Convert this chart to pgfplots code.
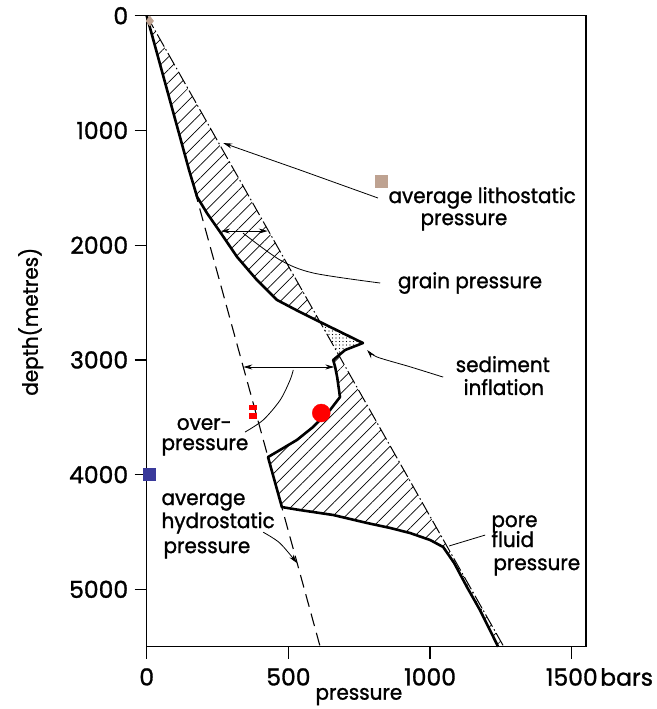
\documentclass[border=0pt]{standalone}
\usepackage{fontspec}
\setmainfont{Poppins}[FakeStretch=0.95,FakeBold=1.2]
\newfontfamily\tickfam{Poppins}[FakeBold=1.2]
\usepackage{pgfplots}
\pgfplotsset{compat=1.18}
\usetikzlibrary{arrows.meta,patterns.meta}
\newcommand\labfont{\fontsize{21}{24}\selectfont}
\newcommand\tickfont{\tickfam\fontsize{23.5}{26}\selectfont}
\definecolor{tanmark}{RGB}{190,162,145}
\definecolor{bluemark}{RGB}{58,58,155}
\begin{document}
\begin{tikzpicture}
\begin{axis}[
  scale only axis, width=439.3pt, height=631pt,
  xmin=0, xmax=1550, ymin=0, ymax=5500, y dir=reverse,
  xtick={0,500,1000,1500}, xticklabels={0,500,1000,1500\rlap{\hspace{2.5pt}bars}},
  ytick={0,1000,2000,3000,4000,5000}, yticklabels={0,1000,2000,3000,4000,5000},
  /pgf/number format/assume math mode=true,
  tick align=outside, tick pos=left, major tick length=12pt,
  axis line style={line width=1.3pt}, tick style={line width=1.3pt, black},
  ticklabel style={font=\tickfont},
  xticklabel style={yshift=-6pt},
  yticklabel style={xshift=-3pt},
  xlabel={pressure}, ylabel={depth(metres)},
  xlabel style={font=\labfont, at={(axis description cs:0.483,-0.079)}, anchor=center},
  ylabel style={font=\labfont, at={(axis description cs:-0.264,0.515)}, anchor=center, rotate=0},
  clip=false,
]
% hatched: grain pressure (upper)
\addplot[draw=none, pattern={Lines[angle=45,distance=9pt,line width=0.7pt]}] coordinates {
 (0,0) (150,1350) (178,1580) (213,1722) (259,1885) (319,2103) (389,2304) (460,2478) (541,2583) (612,2670) (0,0)};
% stippled: sediment inflation
\addplot[draw=none, pattern={Dots[distance=3.5pt,radius=0.6pt]}] coordinates {
 (612,2670) (763,2853) (700,2914) (678,2960) (612,2670)};
% hatched: lower
\addplot[draw=none, pattern={Lines[angle=45,distance=9pt,line width=0.7pt]}] coordinates {
 (678,2960) (658,3001) (665,3062) (672,3149) (682,3324) (647,3437) (587,3585) (530,3698) (470,3786) (428,3847)
 (477,4283) (541,4309) (658,4352) (778,4422) (859,4465) (929,4509) (1000,4570) (1046,4631) (1085,4771)
 (1130,4980) (1176,5181) (1240,5500) (1260,5500) (678,2960)};
% hydrostatic
\addplot[black, line width=1.1pt, dash pattern=on 13pt off 7pt] coordinates {(0,0) (612,5500)};
% lithostatic
\addplot[black, line width=1pt, dash pattern=on 14pt off 3pt on 1.5pt off 3pt] coordinates {(0,0) (1260,5500)};
% pore fluid pressure
\addplot[black, line width=2.6pt, line join=round] coordinates {
 (0,0) (150,1350) (178,1580) (213,1722) (259,1885) (319,2103) (389,2304) (460,2478) (541,2583) (612,2670) (763,2853) (700,2914)
 (658,3001) (665,3062) (672,3149) (682,3324) (647,3437) (587,3585) (530,3698) (470,3786) (428,3847)
 (477,4283) (541,4309) (658,4352) (778,4422) (859,4465) (929,4509) (1000,4570) (1046,4631) (1085,4771)
 (1130,4980) (1176,5181) (1240,5500)};
% annotations
\addplot[black, line width=0.8pt, -{Stealth[length=9pt,width=5pt]}] coordinates {(816,1589) (541,1345) (270,1110)};
\addplot[black, line width=0.9pt, {Stealth[length=9pt,width=5pt]}-{Stealth[length=9pt,width=5pt]}] coordinates {(262,1877) (427,1877)};
\addplot[black, line width=0.8pt, smooth] coordinates {(340,1895) (471,2130) (588,2243) (824,2330)};
\addplot[black, line width=0.8pt, smooth, -{Stealth[length=9pt,width=5pt]}] coordinates {(1046,3150) (929,3060) (813,2975) (778,2914)};
\addplot[black, line width=0.9pt, {Stealth[length=9pt,width=5pt]}-{Stealth[length=9pt,width=5pt]}] coordinates {(341,3062) (662,3062)};
\addplot[black, line width=0.8pt, smooth] coordinates {(517,3088) (506,3175) (471,3350) (411,3524) (347,3629)};
\addplot[black, line width=0.8pt, smooth, -{Stealth[length=9pt,width=5pt]}] coordinates {(411,4502) (470,4597) (530,4771)};
\addplot[black, line width=0.8pt] coordinates {(1194,4527) (1067,4622)};
% texts
\node[anchor=base west, font=\labfont] at (axis cs:841,1633) {average lithostatic};
\node[anchor=base west, font=\labfont] at (axis cs:954,1825) {pressure};
\node[anchor=base west, font=\labfont] at (axis cs:874,2375) {grain pressure};
\node[anchor=base west, font=\labfont] at (axis cs:1078,3106) {sediment};
\node[anchor=base west, font=\labfont] at (axis cs:1106,3306) {inflation};
\node[anchor=base west, font=\labfont] at (axis cs:94,3610) {over-};
\node[anchor=base west, font=\labfont] at (axis cs:40,3786) {pressure};
\node[anchor=base west, font=\labfont] at (axis cs:40,4265) {average};
\node[anchor=base west, font=\labfont] at (axis cs:40,4466) {hydrostatic};
\node[anchor=base west, font=\labfont] at (axis cs:47,4684) {pressure};
\node[anchor=base west, font=\labfont] at (axis cs:1204,4457) {pore};
\node[anchor=base west, font=\labfont] at (axis cs:1204,4631) {fluid};
\node[anchor=base west, font=\labfont] at (axis cs:1211,4832) {pressure};
% coloured markers
\addplot[only marks, mark=diamond*, mark size=5pt, color=tanmark] coordinates {(11,46)};
\addplot[only marks, mark=square*, mark size=6pt, color=tanmark] coordinates {(827,1441)};
\addplot[only marks, mark=square*, mark size=6pt, color=bluemark] coordinates {(8,3995)};
\addplot[only marks, mark=*, mark size=9pt, color=red] coordinates {(616,3463)};
\addplot[only marks, mark=square*, mark size=2.3pt, mark options={xscale=1.5}, color=red] coordinates {(375,3411) (375,3489)};
\end{axis}
\pgfresetboundingbox
\path (current axis.south west) ++(-146.7pt,-62.3pt) rectangle ++(656pt,709pt);
\end{tikzpicture}
\end{document}
